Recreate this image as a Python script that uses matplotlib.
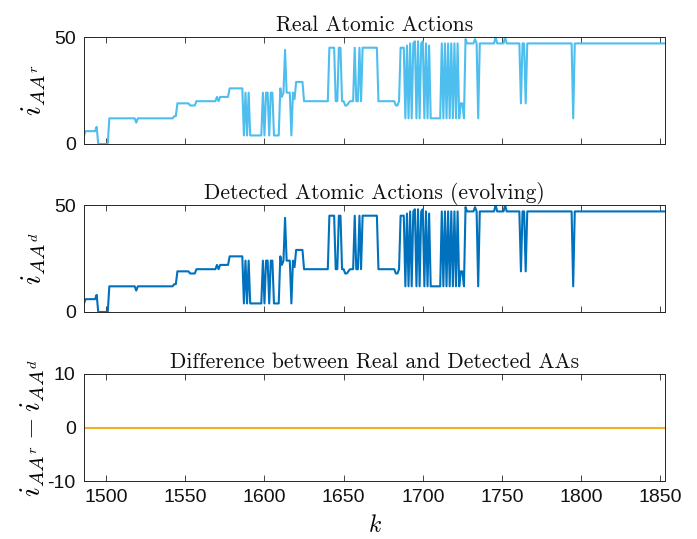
import numpy as np
import matplotlib
matplotlib.use("Agg")
import matplotlib.pyplot as plt

# ---- data (step series) ----
seg_start_k = [1486, 1487, 1494, 1495, 1502, 1519, 1520, 1543, 1545, 1553, 1557,
               1570, 1571, 1572, 1578, 1587, 1588, 1589, 1590, 1591, 1599, 1600,
               1601, 1603, 1604, 1606, 1610, 1611, 1612, 1613, 1614, 1617, 1618,
               1619, 1620, 1625, 1641, 1645, 1647, 1649, 1651, 1653, 1654, 1657,
               1658, 1660, 1661, 1662, 1672, 1683, 1685, 1686, 1689, 1690, 1691,
               1692, 1693, 1694, 1695, 1696, 1697, 1698, 1699, 1700, 1701, 1702,
               1703, 1704, 1705, 1712, 1713, 1714, 1715, 1716, 1717, 1718, 1719,
               1720, 1721, 1722, 1723, 1724, 1726, 1727, 1728, 1733, 1734, 1735,
               1736, 1746, 1747, 1752, 1753, 1762, 1763, 1765, 1766, 1795, 1796]
seg_value = [4, 6, 8, 0, 12, 10, 12, 13, 19, 18, 20,
             22, 20, 22, 26, 4, 24, 4, 24, 4, 24, 4,
             24, 4, 24, 4, 26, 22, 24, 44, 24, 4, 24,
             21, 29, 20, 45, 20, 45, 20, 18, 19, 20, 45,
             20, 45, 20, 45, 20, 18, 20, 45, 12, 46, 12,
             47, 12, 47, 48, 12, 48, 12, 47, 48, 12, 47,
             12, 46, 12, 47, 12, 47, 12, 47, 12, 47, 12,
             47, 12, 47, 12, 19, 12, 49, 47, 49, 47, 12,
             47, 50, 47, 50, 47, 19, 47, 19, 47, 12, 47]
k_last = 1853

x_ticks = [1500, 1550, 1600, 1650, 1700, 1750, 1800, 1850]
titles = ["Real Atomic Actions", "Detected Atomic Actions (evolving)",
          "Difference between Real and Detected AAs"]

# expand run-length segments to one value per sample k
bounds = seg_start_k + [k_last + 1]
k = np.arange(seg_start_k[0], k_last + 1)
aa_real = np.repeat(seg_value, np.diff(bounds)).astype(float)
aa_detected = aa_real.copy()
aa_diff = aa_real - aa_detected

# ---- style ----
plt.rcParams['mathtext.fontset'] = 'cm'
plt.rcParams['axes.unicode_minus'] = False
plt.rcParams['font.family'] = ['Liberation Sans', 'DejaVu Sans']

c_real = '#4DBEEE'
c_det = '#0072BD'
c_diff = '#EDB120'
axc = '#262626'

fig = plt.figure(figsize=(6.97, 5.39), dpi=100)
L, W, H = 84/697, 581/697, 107/539
ax1 = fig.add_axes([L, 1-144/539, W, H])
ax2 = fig.add_axes([L, 1-312/539, W, H])
ax3 = fig.add_axes([L, 1-481/539, W, H])

ax1.plot(k, aa_real, color=c_real, lw=1.5)
ax2.plot(k, aa_detected, color=c_det, lw=1.5)
ax3.plot(k, aa_diff, color=c_diff, lw=1.5)

for ax, t in zip([ax1, ax2, ax3], titles):
    ax.set_xlim(seg_start_k[0], k_last)
    ax.set_xticks(x_ticks)
    ax.tick_params(direction='in', top=True, right=True, length=4,
                   width=0.6, color=axc, labelsize=14, labelcolor='#111111', pad=6)
    for s in ax.spines.values():
        s.set_color(axc)
        s.set_linewidth(0.7)
    ax.set_title(t, fontfamily='cmr10', fontsize=15.5, pad=4, color='#111111')

for ax in (ax1, ax2):
    ax.set_ylim(0, 50)
    ax.set_yticks([0, 50])
    ax.set_xticklabels([])

ax3.set_ylim(-10, 10)
ax3.set_yticks([-10, 0, 10])

ax1.set_ylabel(r'$i_{AA^r}$', fontsize=21, labelpad=4)
ax2.set_ylabel(r'$i_{AA^d}$', fontsize=21, labelpad=4)
ax3.set_ylabel(r'$i_{AA^r} - i_{AA^d}$', fontsize=21, labelpad=0)
ax3.set_xlabel(r'$k$', fontsize=17, labelpad=6)

fig.savefig('out.png', dpi=100, facecolor='white')
